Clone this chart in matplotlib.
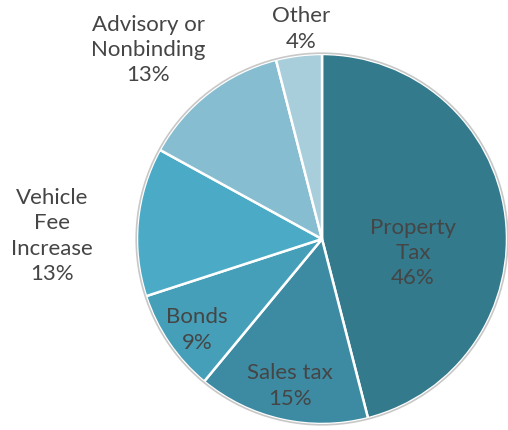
import matplotlib
matplotlib.use("Agg")
import numpy as np
from matplotlib import pyplot as plt
from matplotlib.patches import Circle

# data (clockwise from 12 o'clock)
categories = ["Property\nTax", "Sales tax", "Bonds", "Vehicle\nFee\nIncrease",
              "Advisory or\nNonbinding", "Other"]
shares = [46, 15, 9, 13, 13, 4]
colors = ["#337A8C", "#3D8BA3", "#459FB8", "#4BABC6", "#86BDD0", "#A8CEDB"]

# label anchor points in pixel coords (x, y from top)
label_xy = [(413, 253), (290, 386), (197, 330), (52, 236), (148, 50), (301, 29)]

plt.rcParams['font.family'] = ['Lato', 'DejaVu Sans']

W, H = 508, 431
fig = plt.figure(figsize=(W / 100, H / 100), dpi=100)
ax = fig.add_axes([0, 0, 1, 1])
ax.set_xlim(0, W)
ax.set_ylim(0, H)
ax.axis("off")

cx, cy, r = 322, H - 240, 185
wedges, _ = ax.pie(shares, colors=colors, startangle=90, counterclock=False,
                   center=(cx, cy), radius=r,
                   wedgeprops=dict(edgecolor="white", linewidth=1.8))
ax.add_patch(Circle((cx, cy), r + 0.8, fill=False, edgecolor="#C8C8C8", linewidth=1.2))
ax.set_xlim(0, W)
ax.set_ylim(0, H)
ax.set_aspect("equal")

for name, val, (x, y) in zip(categories, shares, label_xy):
    ax.text(x, H - y, "{}\n{}%".format(name, val), ha="center", va="center",
            fontsize=16, color="#454545", linespacing=1.32)

fig.savefig("out.png", dpi=100)
